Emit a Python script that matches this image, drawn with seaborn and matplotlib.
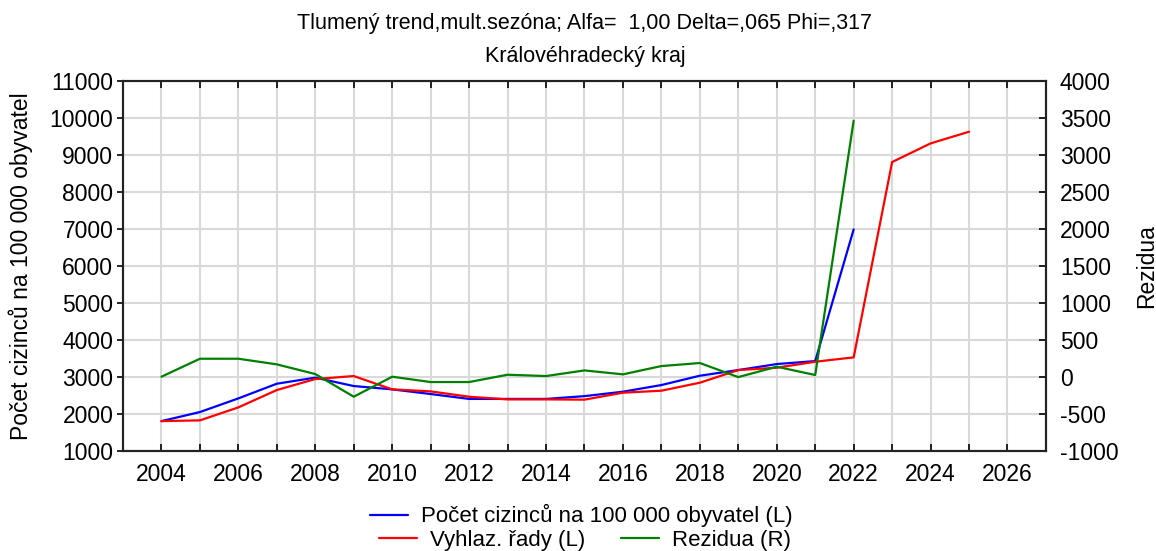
import numpy as np
import pandas as pd
import matplotlib
matplotlib.use('Agg')
import matplotlib.pyplot as plt
import seaborn as sns

# values
years_obs = list(range(2004, 2023))
years_fit = list(range(2004, 2026))
pocet = [1800, 2045, 2414, 2811, 2975, 2748, 2658, 2532, 2400, 2400, 2400,
         2475, 2595, 2775, 3027, 3180, 3342, 3423, 6982]
vyhlaz = [1800, 1820, 2171, 2640, 2937, 3018, 2658, 2604, 2459, 2387, 2387,
          2380, 2568, 2622, 2838, 3180, 3243, 3405, 3523, 8802, 9306, 9622]
rezidua = [0, 243, 243, 167, 36, -270, 0, -72, -72, 27, 9,
           85, 32, 144, 185, -5, 135, 23, 3460]

lab_pocet = 'Počet cizinců na 100 000 obyvatel (L)'
lab_vyhlaz = 'Vyhlaz. řady (L)'
lab_rez = 'Rezidua (R)'

df_obs = pd.DataFrame({'rok': years_obs, 'pocet': pocet, 'rez': rezidua})
df_fit = pd.DataFrame({'rok': years_fit, 'vyhlaz': vyhlaz})

sns.set_style('white')
plt.rcParams['font.family'] = ['Liberation Sans', 'DejaVu Sans']
plt.rcParams['axes.unicode_minus'] = False
plt.rcParams['text.color'] = 'black'
plt.rcParams['axes.labelcolor'] = 'black'
plt.rcParams['xtick.color'] = 'black'
plt.rcParams['ytick.color'] = 'black'

fig = plt.figure(figsize=(11.56, 5.51), dpi=100)
ax = fig.add_axes([0.1064, 0.182, 0.7984, 0.6715])
ax2 = ax.twinx()

sns.lineplot(data=df_obs, x='rok', y='pocet', ax=ax, color='#0000ff', lw=1.6, label=lab_pocet, legend=False)
sns.lineplot(data=df_fit, x='rok', y='vyhlaz', ax=ax, color='#ff0000', lw=1.6, label=lab_vyhlaz, legend=False)
sns.lineplot(data=df_obs, x='rok', y='rez', ax=ax2, color='#008000', lw=1.6, label=lab_rez, legend=False)

ax.set_xlim(2003, 2027)
ax.set_ylim(1000, 11000)
ax2.set_ylim(-1000, 4000)
ax.set_xticks(range(2004, 2027))
ax.set_xticklabels([str(y) if y % 2 == 0 else '' for y in range(2004, 2027)])
ax.set_yticks(range(1000, 11001, 1000))
ax2.set_yticks(range(-1000, 4001, 500))

ax.grid(True, color='#d9d9d9', lw=1.5)
ax2.grid(False)
ax.set_axisbelow(True)
for a in (ax, ax2):
    for s in a.spines.values():
        s.set_color('#222222')
        s.set_linewidth(1.5)

ax.tick_params(axis='x', direction='in', top=True, bottom=True, length=5, width=1.2, labelsize=16.5, pad=9)
ax.tick_params(axis='y', direction='out', left=True, length=4, width=1.2, labelsize=16.5, pad=3)
ax2.tick_params(axis='y', direction='in', right=True, length=5, width=1.2, labelsize=16.5, pad=10)

ax.set_xlabel('')
ax.set_ylabel('Počet cizinců na 100 000 obyvatel', fontsize=16.5, labelpad=12)
ax2.set_ylabel('Rezidua', fontsize=16.5, labelpad=12)

fig.text(0.506, 0.958, 'Tlumený trend,mult.sezóna; Alfa=  1,00 Delta=,065 Phi=,317',
         ha='center', va='center', fontsize=15.5)
fig.text(0.506, 0.898, 'Královéhradecký kraj', ha='center', va='center', fontsize=15.5)

h1, l1 = ax.get_legend_handles_labels()
h2, l2 = ax2.get_legend_handles_labels()
fig.legend(h1[:1], l1[:1], loc='center', bbox_to_anchor=(0.503, 0.064),
           frameon=False, fontsize=16, handlelength=1.7, handletextpad=0.6)
fig.legend([h1[1], h2[0]], [l1[1], l2[0]], loc='center', bbox_to_anchor=(0.506, 0.019),
           ncol=2, frameon=False, fontsize=16, handlelength=1.7, handletextpad=0.6,
           columnspacing=1.6)

fig.savefig('out.png', dpi=100)
